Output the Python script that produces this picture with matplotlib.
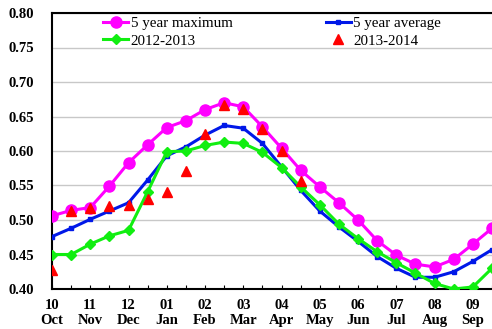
import numpy as np
import matplotlib
matplotlib.use('Agg')
import matplotlib.pyplot as plt
from matplotlib.font_manager import FontProperties

# half-month steps from early October to late September
months = ['10\nOct', '11\nNov', '12\nDec', '01\nJan', '02\nFeb', '03\nMar',
          '04\nApr', '05\nMay', '06\nJun', '07\nJul', '08\nAug', '09\nSep']

max_5yr = [0.506, 0.514, 0.518, 0.549, 0.583, 0.609, 0.634, 0.644, 0.660, 0.670,
           0.664, 0.635, 0.604, 0.572, 0.548, 0.525, 0.500, 0.470, 0.449, 0.436,
           0.432, 0.443, 0.465, 0.488]
avg_5yr = [0.476, 0.488, 0.501, 0.513, 0.525, 0.558, 0.593, 0.606, 0.623, 0.637,
           0.633, 0.611, 0.577, 0.543, 0.513, 0.490, 0.469, 0.447, 0.430, 0.417,
           0.417, 0.425, 0.440, 0.457]
y2012 = [0.450, 0.450, 0.465, 0.477, 0.485, 0.541, 0.599, 0.600, 0.608, 0.613,
         0.611, 0.598, 0.576, 0.548, 0.522, 0.494, 0.473, 0.454, 0.438, 0.423,
         0.408, 0.400, 0.403, 0.430]
y2013 = [0.428, 0.513, 0.518, 0.520, 0.522, 0.531, 0.540, 0.571, 0.625, 0.667,
         0.661, 0.632, 0.600, 0.556]

x = np.arange(len(max_5yr))
x13 = np.arange(len(y2013))

fig = plt.figure(figsize=(4.92, 3.29), dpi=100)
ax = fig.add_axes([52/492, 40/329, 1 - 52/492, 276/329])

ax.plot(x, max_5yr, '-o', color='#FF00FF', lw=2.2, ms=8, label='5 year maximum', zorder=3)
ax.plot(x, y2012, '-D', color='#11EE11', lw=2.2, ms=5, label='2012-2013', zorder=4)
ax.plot(x, avg_5yr, '-s', color='#0018E8', lw=2.2, ms=3.5, label='5 year average', zorder=3)
ax.plot(x13, y2013, '^', color='#FF0000', ms=7, ls='none', label='2013-2014', zorder=5)

ax.set_xlim(0, 22.95)
ax.set_ylim(0.40, 0.80)
yt = np.arange(0.40, 0.801, 0.05)
ax.set_yticks(yt)
ax.set_yticklabels([f'{v:.2f}' for v in yt])
ax.set_xticks(x)
ax.set_xticklabels([months[i // 2] if i % 2 == 0 else '' for i in x])

tick_font = FontProperties(family='Liberation Serif', weight='bold', size=10.5)
for lab in ax.get_xticklabels() + ax.get_yticklabels():
    lab.set_fontproperties(tick_font)
ax.tick_params(axis='x', direction='in', length=3, width=0.8, pad=7)
ax.tick_params(axis='y', length=0, pad=13)

ax.grid(axis='y', color='#c8c8c8', lw=1.0)
ax.set_axisbelow(True)
for s in ['left', 'bottom', 'top']:
    ax.spines[s].set_color('black')
    ax.spines[s].set_linewidth(1.5)
ax.spines['right'].set_visible(False)

ax.legend(ncol=2, loc='upper left', bbox_to_anchor=(0.085, 1.035), frameon=False,
          prop=dict(family='Liberation Serif', size=10.8), handlelength=1.7,
          handletextpad=0.15, columnspacing=6.2, labelspacing=0.25)

fig.savefig('out.png', dpi=100)
